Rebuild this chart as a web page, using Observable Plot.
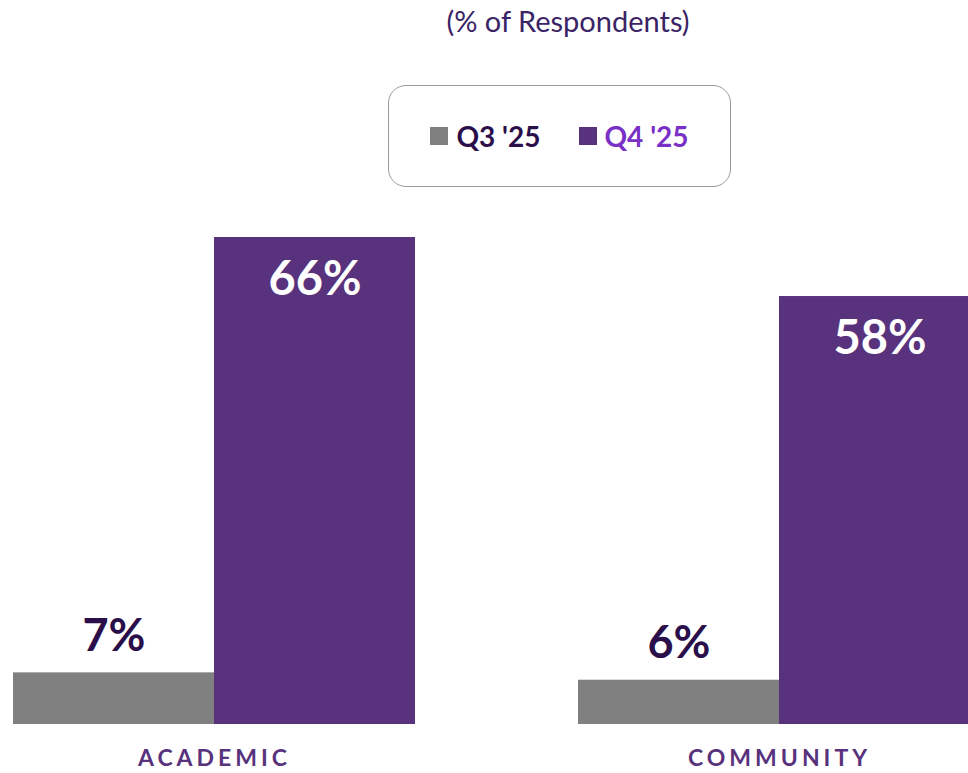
<!DOCTYPE html>
<html>
<head>
<meta charset="utf-8">
<script src="https://cdn.jsdelivr.net/npm/d3@7"></script>
<script src="https://cdn.jsdelivr.net/npm/@observablehq/plot@0.6"></script>
<style>
  html, body { margin: 0; padding: 0; background: #fff; overflow: hidden; }
  body { font-family: Lato, "Open Sans", sans-serif; width: 968px; height: 773px; position: relative; }
  #title { position: absolute; left: 0; width: 1136px; top: 3px; text-align: center; font-size: 29px; color: #3a2466; }
  #legend { position: absolute; left: 388px; top: 85px; width: 341px; height: 100px; border: 1px solid #9a9a9a; border-radius: 18px; box-sizing: content-box; display: flex; align-items: center; justify-content: center; gap: 38px; }
  .item { display: flex; align-items: center; gap: 8px; font-weight: bold; font-size: 28px; }
  .sw { width: 18px; height: 18px; display: inline-block; }
  #chart { position: absolute; left: 0; top: 0; }
  .cat text { letter-spacing: 4px; }
</style>
</head>
<body>
<div id="chart"></div>
<div id="title">(% of Respondents)</div>
<div id="legend"></div>
<script>
const categories = ["Academic", "Community"];
const series = ["Q3 '25", "Q4 '25"];
const q3Values = [7, 6];
const q4Values = [66, 58];
const seriesColors = ["#808080", "#58327c"];
const legendTextColors = ["#2a0f4a", "#7a2fc6"];

const data = categories.flatMap((c, i) => [
  {category: c, series: series[0], value: q3Values[i]},
  {category: c, series: series[1], value: q4Values[i]}
]);

const legend = document.getElementById("legend");
series.forEach((s, i) => {
  const it = document.createElement("div");
  it.className = "item";
  it.innerHTML = `<span class="sw" style="background:${seriesColors[i]}"></span><span style="color:${legendTextColors[i]}">${s}</span>`;
  legend.appendChild(it);
});

const chart = Plot.plot({
  width: 968,
  height: 773,
  marginTop: 0, marginBottom: 49, marginLeft: 0, marginRight: 0,
  style: {fontFamily: "Lato, 'Open Sans', sans-serif", overflow: "hidden"},
  fx: {domain: categories, range: [13, 980], paddingInner: 0.2885, paddingOuter: 0, axis: null},
  x: {domain: series, padding: 0, axis: null},
  y: {domain: [0, 66], range: [724, 237], axis: null},
  color: {domain: series, range: seriesColors},
  marks: [
    Plot.barY(data, {fx: "category", x: "series", y: "value", fill: "series", inset: 0}),
    Plot.text(data.filter(d => d.series === series[0]), {
      fx: "category", x: "series", y: "value", text: d => d.value + "%",
      lineAnchor: "bottom", dy: -22, fontSize: 45, fontWeight: "bold", fill: "#2a0f4a"
    }),
    Plot.text(data.filter(d => d.series === series[1]), {
      fx: "category", x: "series", y: "value", text: d => d.value + "%",
      lineAnchor: "top", dy: 24, fontSize: 47, fontWeight: "bold", fill: "#ffffff"
    }),
    Plot.text(categories, {
      fx: d => d, text: d => d.toUpperCase(), frameAnchor: "bottom", lineAnchor: "top",
      dy: 25, fontSize: 23, fontWeight: "bold", fill: "#58327c", className: "cat"
    })
  ]
});
document.getElementById("chart").appendChild(chart);
</script>
</body>
</html>
